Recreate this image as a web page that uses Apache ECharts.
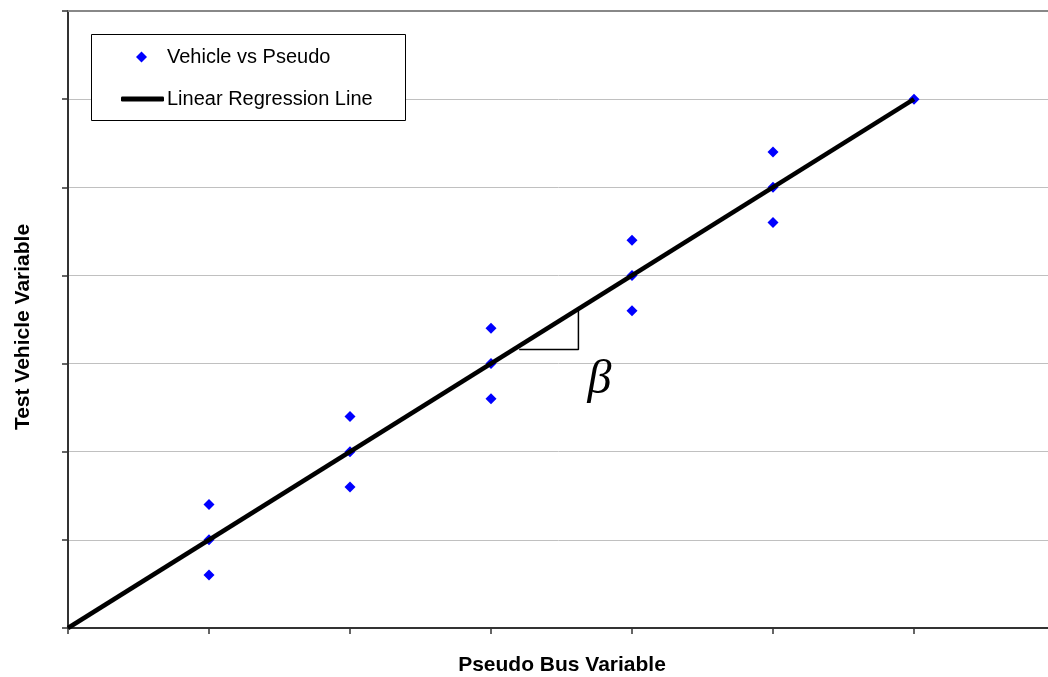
<!DOCTYPE html>
<html>
<head>
<meta charset="utf-8">
<script src="https://cdn.jsdelivr.net/npm/echarts@6/dist/echarts.min.js"></script>
<style>
  html, body { margin: 0; padding: 0; background: #fff; }
  #chart { width: 1048px; height: 677px; }
</style>
</head>
<body>
<div id="chart"></div>
<script>
// Observed pairs: pseudo bus variable vs test vehicle variable
const pseudoBus   = [1, 1, 1, 2, 2, 2, 3, 3, 3, 4, 4, 4, 5, 5, 5, 6];
const testVehicle = [1.4, 1, 0.6, 2.4, 2, 1.6, 3.4, 3, 2.6, 4.4, 4, 3.6, 5.4, 5, 4.6, 6];

// Fitted regression line end points
const regX = [0, 6];
const regY = [0, 6];

const scatterName = 'Vehicle vs Pseudo';
const lineName = 'Linear Regression Line';

const font = "'Liberation Sans', Arial, sans-serif";

const chart = echarts.init(document.getElementById('chart'), null, { renderer: 'canvas' });

const option = {
  animation: false,
  backgroundColor: '#ffffff',
  // plot area runs slightly past the right edge of the canvas
  grid: { left: 68, top: 11, width: 987, height: 617, containLabel: false, outerBoundsMode: 'none' },
  xAxis: [
    {
      type: 'value', min: 0, max: 7, interval: 1,
      axisLine: { show: true, onZero: false, lineStyle: { color: '#333', width: 2 } },
      axisTick: { show: true, inside: false, length: 6, lineStyle: { color: '#333', width: 1.5 } },
      axisLabel: { show: false },
      splitLine: { show: false }
    },
    {
      type: 'value', position: 'top', min: 0, max: 7, interval: 1,
      axisLine: { show: true, onZero: false, lineStyle: { color: '#888', width: 2 } },
      axisTick: { show: false },
      axisLabel: { show: false },
      splitLine: { show: false }
    }
  ],
  yAxis: {
    type: 'value', min: 0, max: 7, interval: 1,
    axisLine: { show: true, onZero: false, lineStyle: { color: '#333', width: 2 } },
    axisTick: { show: true, inside: false, length: 6, lineStyle: { color: '#333', width: 1.5 } },
    axisLabel: { show: false },
    splitLine: { show: true, lineStyle: { color: '#c0c0c0', width: 1 } }
  },
  legend: [
    {
      data: [{ name: scatterName, icon: 'diamond' }],
      orient: 'vertical', left: 136, top: 47, padding: 0,
      itemWidth: 11, itemHeight: 11,
      itemStyle: { opacity: 1 },
      textStyle: { fontFamily: font, fontSize: 20, color: '#000', padding: [0, 0, 0, 15] },
      z: 5
    },
    {
      data: [{ name: lineName, icon: 'roundRect' }],
      orient: 'vertical', left: 121, top: 89, padding: 0,
      itemWidth: 43, itemHeight: 5,
      itemStyle: { color: '#000' },
      textStyle: { fontFamily: font, fontSize: 20, color: '#000', padding: [0, 0, 0, -2] },
      z: 5
    }
  ],
  graphic: [
    {
      type: 'rect', z: 1,
      shape: { x: 91.5, y: 34.5, width: 314, height: 86 },
      style: { fill: '#fff', stroke: '#000', lineWidth: 1 }
    },
    {
      type: 'text', z: 1, x: 562, y: 665,
      style: {
        text: 'Pseudo Bus Variable', font: 'bold 21px ' + font,
        fill: '#000', align: 'center', verticalAlign: 'middle'
      }
    },
    {
      type: 'text', z: 1, x: 23, y: 327, rotation: Math.PI / 2,
      style: {
        text: 'Test Vehicle Variable', font: 'bold 21px ' + font,
        fill: '#000', align: 'center', verticalAlign: 'middle'
      }
    }
  ],
  series: [
    {
      name: scatterName,
      type: 'scatter',
      symbol: 'diamond',
      symbolSize: 11,
      itemStyle: { color: '#0000ff', opacity: 1 },
      data: pseudoBus.map((x, i) => [x, testVehicle[i]]),
      z: 2
    },
    {
      name: lineName,
      type: 'line',
      symbol: 'none',
      lineStyle: { color: '#000', width: 4.5 },
      itemStyle: { color: '#000' },
      data: regX.map((x, i) => [x, regY[i]]),
      z: 3
    },
    {
      // slope triangle under the regression line
      name: 'slope',
      type: 'line',
      symbol: 'none',
      lineStyle: { color: '#000', width: 1.5 },
      data: [[3.2, 3.16], [3.62, 3.16], [3.62, 3.6]],
      z: 3
    },
    {
      name: 'beta',
      type: 'scatter',
      symbolSize: 0,
      itemStyle: { opacity: 1 },
      data: [[3.77, 2.81]],
      label: {
        show: true, position: 'inside', formatter: '\u03B2',
        fontFamily: "'Liberation Serif', 'Times New Roman', serif",
        fontStyle: 'italic', fontSize: 48, color: '#000', opacity: 1
      },
      z: 3
    }
  ]
};

chart.setOption(option);
</script>
</body>
</html>
